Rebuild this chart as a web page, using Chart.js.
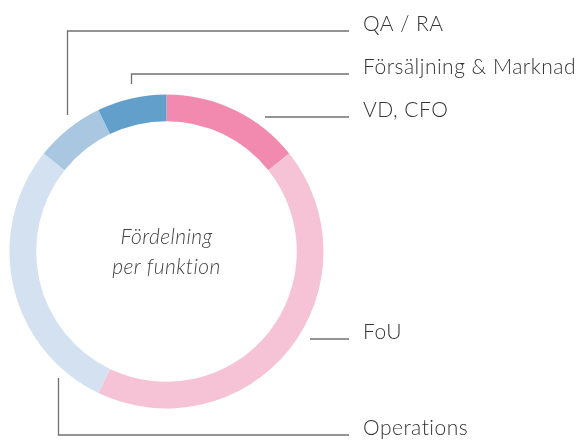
<!DOCTYPE html>
<html>
<head>
<meta charset="utf-8">
<script src="https://cdn.jsdelivr.net/npm/chart.js@4/dist/chart.umd.min.js"></script>
<style>
  html, body { margin: 0; padding: 0; background: #fff; }
  #wrap { position: relative; width: 585px; height: 441px; }
</style>
</head>
<body>
<div id="wrap"><canvas id="chart" width="585" height="441"></canvas></div>
<script>
// clockwise from 12 o'clock
const categories = ['VD, CFO', 'FoU', 'Operations', 'QA / RA', 'Försäljning & Marknad'];
const values = [2, 6, 4, 1, 1];
const colors = ['#F28AB0', '#F6C2D5', '#D3E1F0', '#AAC7E2', '#629FCA'];
const centerLines = ['Fördelning', 'per funktion'];

const LABEL_FONT = '300 21px Lato, "Open Sans", sans-serif';
const LINE_COLOR = '#707070';
const TEXT_COLOR = '#353535';
const TEXT_X = 363;
const LINE_END = 349;

// leader lines: polyline + baseline of label, keyed by category
const leaders = {
  'QA / RA': { pts: [[67.5, 115], [67.5, 31], [LINE_END, 31]], y: 31 },
  'Försäljning & Marknad': { pts: [[131.5, 84], [131.5, 74], [LINE_END, 74]], y: 74 },
  'VD, CFO': { pts: [[265, 117], [LINE_END, 117]], y: 117 },
  'FoU': { pts: [[310, 339], [LINE_END, 339]], y: 339 },
  'Operations': { pts: [[58.5, 378], [58.5, 435], [LINE_END, 435]], y: 435 },
};

const annotate = {
  id: 'annotate',
  afterDraw(chart) {
    const ctx = chart.ctx;
    ctx.save();
    ctx.strokeStyle = LINE_COLOR;
    ctx.lineWidth = 1.3;
    ctx.fillStyle = TEXT_COLOR;
    ctx.font = LABEL_FONT;
    ctx.letterSpacing = '0.5px';
    ctx.textBaseline = 'alphabetic';
    ctx.textAlign = 'left';
    categories.forEach((cat) => {
      const l = leaders[cat];
      if (!l) return;
      ctx.beginPath();
      l.pts.forEach(([x, y], i) => (i ? ctx.lineTo(x, y) : ctx.moveTo(x, y)));
      ctx.stroke();
      ctx.fillText(cat, TEXT_X, l.y - 0.5);
    });
    const arc = chart.getDatasetMeta(0).data[0];
    ctx.font = 'italic 300 21px Lato, "Open Sans", sans-serif';
    ctx.letterSpacing = '0.4px';
    ctx.textAlign = 'center';
    ctx.fillStyle = '#444';
    ctx.fillText(centerLines[0], arc.x, arc.y - 8);
    ctx.fillText(centerLines[1], arc.x, arc.y + 22);
    ctx.restore();
  },
};

new Chart(document.getElementById('chart'), {
  type: 'doughnut',
  data: {
    labels: categories,
    datasets: [{ data: values, backgroundColor: colors, borderWidth: 0 }],
  },
  options: {
    responsive: false,
    devicePixelRatio: 1,
    animation: false,
    cutout: '83%',
    layout: { padding: { left: 9.5, top: 94.5, right: 261.5, bottom: 32.5 } },
    plugins: { legend: { display: false }, tooltip: { enabled: false } },
  },
  plugins: [annotate],
});
</script>
</body>
</html>
